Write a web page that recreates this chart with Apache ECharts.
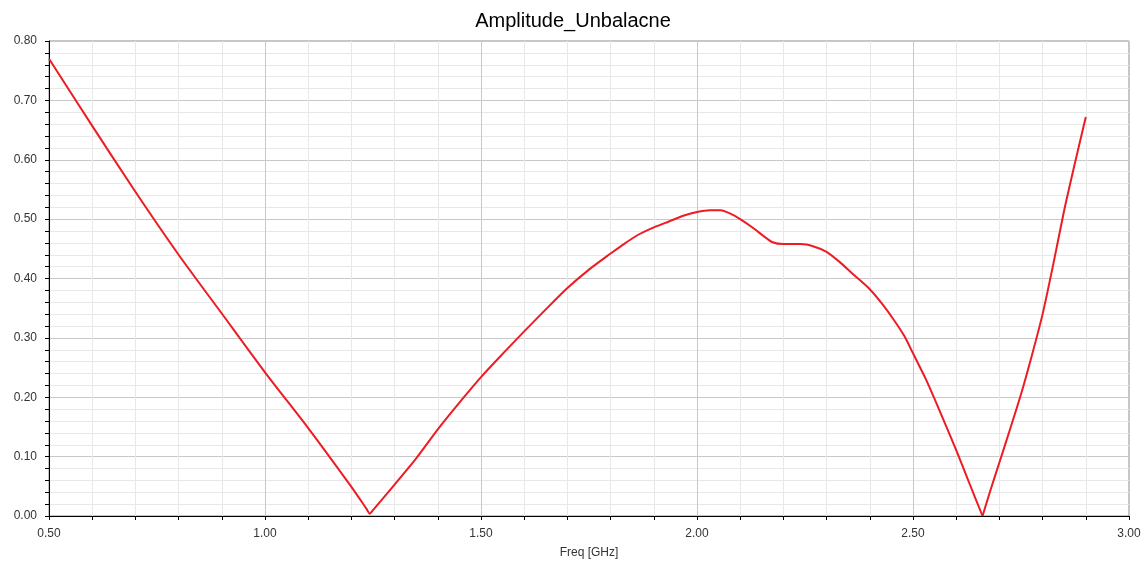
<!DOCTYPE html>
<html>
<head>
<meta charset="utf-8">
<script src="https://cdn.jsdelivr.net/npm/echarts@6/dist/echarts.min.js"></script>
<style>
html,body{margin:0;padding:0;background:#fff;}
#chart{width:1146px;height:565px;}
</style>
</head>
<body>
<div id="chart"></div>
<script>
var chartTitle = 'Amplitude_Unbalacne';
var xAxisName = 'Freq [GHz]';
var freq = [0.50,0.60,0.70,0.80,0.90,1.00,1.10,1.20,1.235,1.2425,1.25,1.30,1.35,1.40,1.45,1.50,1.55,1.60,1.65,1.70,1.75,1.80,1.825,1.86,1.90,1.935,1.97,2.00,2.03,2.055,2.075,2.10,2.13,2.155,2.175,2.20,2.24,2.27,2.30,2.33,2.36,2.40,2.43,2.455,2.48,2.50,2.53,2.56,2.60,2.63,2.661,2.68,2.70,2.725,2.75,2.775,2.80,2.825,2.85,2.875,2.90];
var amp  = [0.770,0.657,0.546,0.440,0.341,0.242,0.148,0.049,0.012,0.004,0.010,0.053,0.097,0.146,0.191,0.234,0.273,0.311,0.348,0.384,0.415,0.442,0.455,0.472,0.486,0.496,0.506,0.512,0.515,0.515,0.510,0.500,0.485,0.471,0.461,0.458,0.458,0.454,0.445,0.428,0.408,0.382,0.356,0.331,0.303,0.274,0.230,0.180,0.111,0.056,0.000,0.045,0.090,0.147,0.205,0.270,0.340,0.425,0.515,0.595,0.672];

var points = freq.map(function(f, i){ return [f, amp[i]]; });
// split at the sharp minimum near 2.66 GHz so the curve keeps its cusp
var cusp = freq.indexOf(2.661);
var partA = points.slice(0, cusp + 1);
var partB = points.slice(cusp);
var chart = echarts.init(document.getElementById('chart'), null, {renderer:'canvas'});
var font = '"Liberation Sans", Arial, sans-serif';
var lineStyle = {color: '#ed1c24', width: 2, join: 'round'};
chart.setOption({
  animation: false,
  backgroundColor: '#fff',
  title: {
    text: chartTitle, left: 'center', top: 6,
    textStyle: {fontFamily: font, fontSize: 20, fontWeight: 'normal', color: '#000'}
  },
  grid: {left: 49, right: 17, top: 41, bottom: 49, show: true, borderColor: '#8c8c8c', borderWidth: 1},
  xAxis: [{
    type: 'value', min: 0.5, max: 3.0, interval: 0.5,
    name: xAxisName, nameLocation: 'middle', nameGap: 31,
    nameTextStyle: {fontFamily: font, fontSize: 12, color: '#333'},
    axisLine: {show: true, onZero: false, lineStyle: {color: '#000', width: 1}},
    axisTick: {show: true, length: 4, lineStyle: {color: '#000'}},
    minorTick: {show: true, splitNumber: 5, length: 4, lineStyle: {color: '#000'}},
    axisLabel: {fontFamily: font, fontSize: 12, color: '#333', margin: 12,
      formatter: function(v){ return v.toFixed(2); }},
    splitLine: {show: true, lineStyle: {color: '#c8c8c8', width: 1}},
    minorSplitLine: {show: true, lineStyle: {color: '#e8e8e8', width: 1}}
  }, {
    type: 'value', position: 'top', min: 0.5, max: 3.0,
    axisLine: {show: true, lineStyle: {color: '#000', width: 1}},
    axisTick: {show: false}, axisLabel: {show: false}, splitLine: {show: false}
  }],
  yAxis: {
    type: 'value', min: 0, max: 0.8, interval: 0.1,
    axisLine: {show: true, onZero: false, lineStyle: {color: '#000', width: 1}},
    axisTick: {show: true, length: 4, lineStyle: {color: '#000'}},
    minorTick: {show: true, splitNumber: 5, length: 4, lineStyle: {color: '#000'}},
    axisLabel: {fontFamily: font, fontSize: 12, color: '#333', margin: 12,
      formatter: function(v){ return v.toFixed(2); }},
    splitLine: {show: true, lineStyle: {color: '#c8c8c8', width: 1}},
    minorSplitLine: {show: true, lineStyle: {color: '#e8e8e8', width: 1}}
  },
  series: [{
    type: 'line', data: partA, xAxisIndex: 0, showSymbol: false, symbol: 'none',
    smooth: 0.25, lineStyle: lineStyle
  }, {
    type: 'line', data: partB, xAxisIndex: 0, showSymbol: false, symbol: 'none',
    smooth: 0.25, lineStyle: lineStyle
  }]
});
</script>
</body>
</html>
